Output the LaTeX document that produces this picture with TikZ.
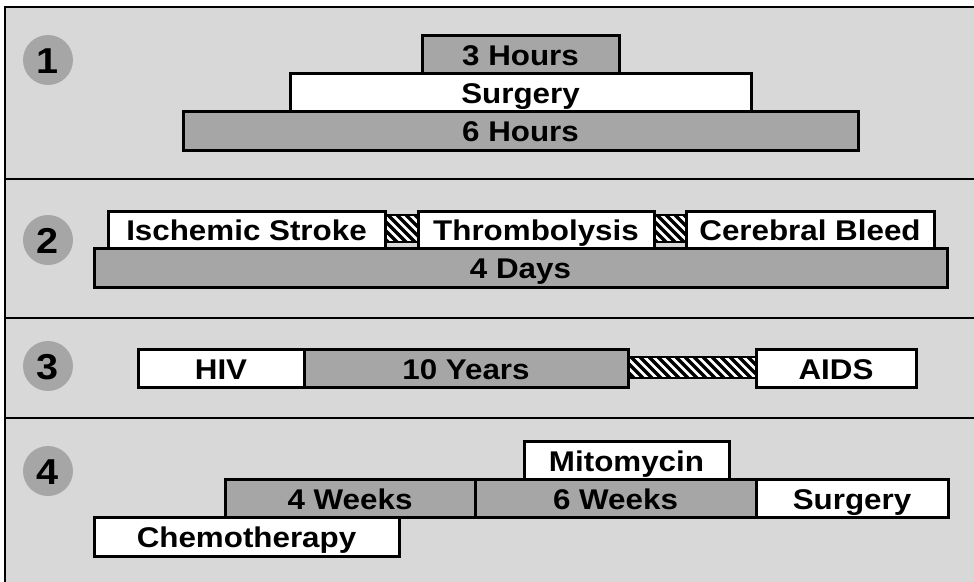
\documentclass[tikz,border=0pt]{standalone}
\usepackage{fontspec}
\setmainfont{Liberation Sans}[FakeStretch=1.1]
\definecolor{panelgray}{HTML}{D8D8D8}
\definecolor{bargray}{HTML}{A6A6A6}
\begin{document}
\begin{tikzpicture}[x=1pt,y=-1pt,
  panel/.style={draw=black,line width=2.6pt,fill=panelgray},
  basebox/.style={draw=black,line width=3pt,inner sep=0pt,outer sep=0pt,
    font=\fontsize{28.5}{30}\selectfont\bfseries,text height=22pt,text depth=0pt},
  whitebox/.style={basebox,fill=white},
  graybox/.style={basebox,fill=bargray},
  hatchbox/.style={draw=black,line width=1.6pt,fill=white,inner sep=0pt,outer sep=0pt,
    path picture={\foreach \k in {-60,-51,...,140}
      \draw[line width=3.3pt] ([xshift=\k pt]path picture bounding box.north west) -- ++(50pt,-50pt);}},
  stepmark/.style={circle,fill=bargray,minimum size=50pt,inner sep=0pt,
    font=\fontsize{36}{36}\selectfont\bfseries,text height=26pt,text depth=0pt}]
\newcommand\tbox[7]{\node[#6,minimum width={(#4-#2)*1pt},minimum height={(#5-#3)*1pt}]
  (#1) at ({(#2+#4)/2},{(#3+#5)/2}) {#7};}

\useasboundingbox (0,0) rectangle (974,581);
\begin{scope}
  \clip (0,0) rectangle (974,581);
  \draw[panel] (5,7) rectangle (990,179);
  \draw[panel] (5,179) rectangle (990,318);
  \draw[panel] (5,318) rectangle (990,418);
  \draw[panel] (5,418) rectangle (990,600);
\end{scope}

% step markers
\node[stepmark] (m1) at (48,60) {1};
\node[stepmark] (m2) at (48,240) {2};
\node[stepmark] (m3) at (48,366) {3};
\node[stepmark] (m4) at (48,471) {4};

% 1: surgery window
\tbox{h3}{422}{35}{619}{73}{graybox}{3 Hours}
\tbox{surg1}{290}{73}{751}{111}{whitebox}{Surgery}
\tbox{h6}{183}{111}{858}{150}{graybox}{6 Hours}

% 2: stroke sequence
\tbox{d4}{94}{248}{947}{287}{graybox}{4 Days}
\tbox{hatchA}{385}{215}{418}{242}{hatchbox}{}
\tbox{hatchB}{654}{215}{686}{242}{hatchbox}{}
\tbox{isch}{108}{211}{385}{248}{whitebox}{Ischemic Stroke}
\tbox{throm}{418}{211}{654}{248}{whitebox}{Thrombolysis}
\tbox{bleed}{686}{211}{934}{248}{whitebox}{Cerebral Bleed}

% 3: HIV progression
\tbox{hatchC}{628}{357}{756}{378}{hatchbox}{}
\tbox{hiv}{138}{349}{304}{387}{whitebox}{HIV}
\tbox{y10}{304}{349}{628}{387}{graybox}{10 Years}
\tbox{aids}{756}{349}{916}{387}{whitebox}{AIDS}

% 4: treatment schedule
\tbox{mito}{524}{441}{729}{479}{whitebox}{Mitomycin}
\tbox{w4}{225}{479}{475}{517}{graybox}{4 Weeks}
\tbox{w6}{475}{479}{756}{517}{graybox}{6 Weeks}
\tbox{surg4}{756}{479}{948}{517}{whitebox}{Surgery}
\tbox{chemo}{94}{517}{399}{556}{whitebox}{Chemotherapy}
\end{tikzpicture}
\end{document}
